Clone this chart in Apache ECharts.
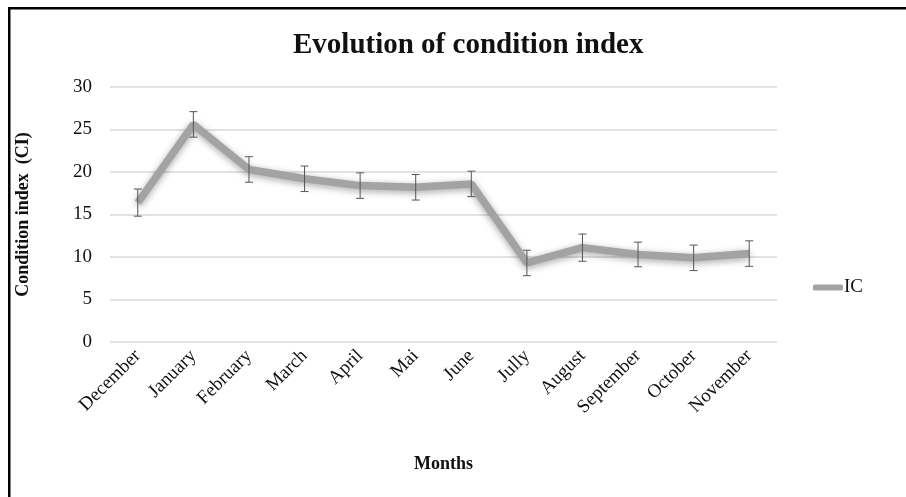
<!DOCTYPE html>
<html>
<head>
<meta charset="utf-8">
<title>Evolution of condition index</title>
<script src="https://cdn.jsdelivr.net/npm/echarts@6/dist/echarts.min.js"></script>
<style>
  html, body { margin: 0; padding: 0; background: #ffffff; }
  #chart { width: 906px; height: 497px; }
</style>
</head>
<body>
<div id="chart"></div>
<script>
// Monthly condition index (CI) with its standard error
const months = ['December', 'January', 'February', 'March', 'April', 'Mai',
                'June', 'Jully', 'August', 'September', 'October', 'November'];
const ciMean = [16.4, 25.6, 20.3, 19.2, 18.4, 18.2, 18.6, 9.3, 11.1, 10.3, 9.9, 10.4];
const ciErr  = [1.6, 1.5, 1.5, 1.5, 1.5, 1.5, 1.5, 1.5, 1.6, 1.45, 1.5, 1.5];
const yTicks = [0, 5, 10, 15, 20, 25, 30];

const serif = '"Liberation Serif", "Times New Roman", serif';
const chart = echarts.init(document.getElementById('chart'), null, { renderer: 'canvas' });

const errData = months.map((m, i) => [i, ciMean[i] - ciErr[i], ciMean[i] + ciErr[i]]);

chart.setOption({
  backgroundColor: '#ffffff',
  animation: false,
  title: {
    text: 'Evolution of condition index',
    left: 288,
    top: 26,
    textStyle: { fontFamily: serif, fontWeight: 'bold', fontSize: 29, color: '#111' }
  },
  legend: {
    data: ['IC'],
    left: 808,
    top: 273,
    icon: 'roundRect',
    itemWidth: 30,
    itemHeight: 6,
    itemGap: 4,
    textStyle: { fontFamily: serif, fontSize: 19, color: '#111', padding: [0, 0, 0, -4] }
  },
  grid: { left: 110, right: 129, top: 87, bottom: 155 },
  xAxis: {
    type: 'category',
    data: months,
    boundaryGap: true,
    name: 'Months',
    nameLocation: 'middle',
    nameGap: 113,
    nameTextStyle: { fontFamily: serif, fontWeight: 'bold', fontSize: 18, color: '#111' },
    axisLine: { show: false },
    axisTick: { show: false },
    axisLabel: {
      rotate: 45,
      margin: 11,
      fontFamily: serif,
      fontSize: 19,
      color: '#111'
    }
  },
  yAxis: {
    type: 'value',
    min: yTicks[0],
    max: yTicks[yTicks.length - 1],
    interval: yTicks[1] - yTicks[0],
    name: 'Condition index  (CI)',
    nameLocation: 'middle',
    nameGap: 78,
    nameRotate: 90,
    nameTextStyle: { fontFamily: serif, fontWeight: 'bold', fontSize: 18, color: '#111' },
    axisLine: { show: false },
    axisTick: { show: false },
    axisLabel: { margin: 18, fontFamily: serif, fontSize: 19, color: '#111' },
    splitLine: { lineStyle: { color: '#d9d9d9', width: 1.5 } }
  },
  series: [
    {
      name: 'IC',
      type: 'line',
      data: ciMean,
      showSymbol: false,
      symbol: 'none',
      color: '#a3a3a3',
      lineStyle: {
        color: '#a3a3a3',
        width: 7.5,
        shadowColor: 'rgba(0,0,0,0.35)',
        shadowBlur: 7,
        shadowOffsetY: 2
      },
      z: 2
    },
    {
      name: 'SE',
      type: 'custom',
      data: errData,
      z: 3,
      renderItem: function (params, api) {
        const x = api.value(0);
        const lo = api.coord([x, api.value(1)]);
        const hi = api.coord([x, api.value(2)]);
        const half = 4;
        const style = { stroke: '#555', lineWidth: 1, fill: null };
        return {
          type: 'group',
          children: [
            { type: 'line', shape: { x1: hi[0], y1: hi[1], x2: lo[0], y2: lo[1] }, style: style },
            { type: 'line', shape: { x1: hi[0] - half, y1: hi[1], x2: hi[0] + half, y2: hi[1] }, style: style },
            { type: 'line', shape: { x1: lo[0] - half, y1: lo[1], x2: lo[0] + half, y2: lo[1] }, style: style }
          ]
        };
      }
    }
  ],
  graphic: [
    // frame edges along the top and left of the figure
    { type: 'rect', shape: { x: 8, y: 7, width: 898, height: 2.5 }, style: { fill: '#000' } },
    { type: 'rect', shape: { x: 8, y: 7, width: 2.5, height: 490 }, style: { fill: '#000' } }
  ]
});
</script>
</body>
</html>
